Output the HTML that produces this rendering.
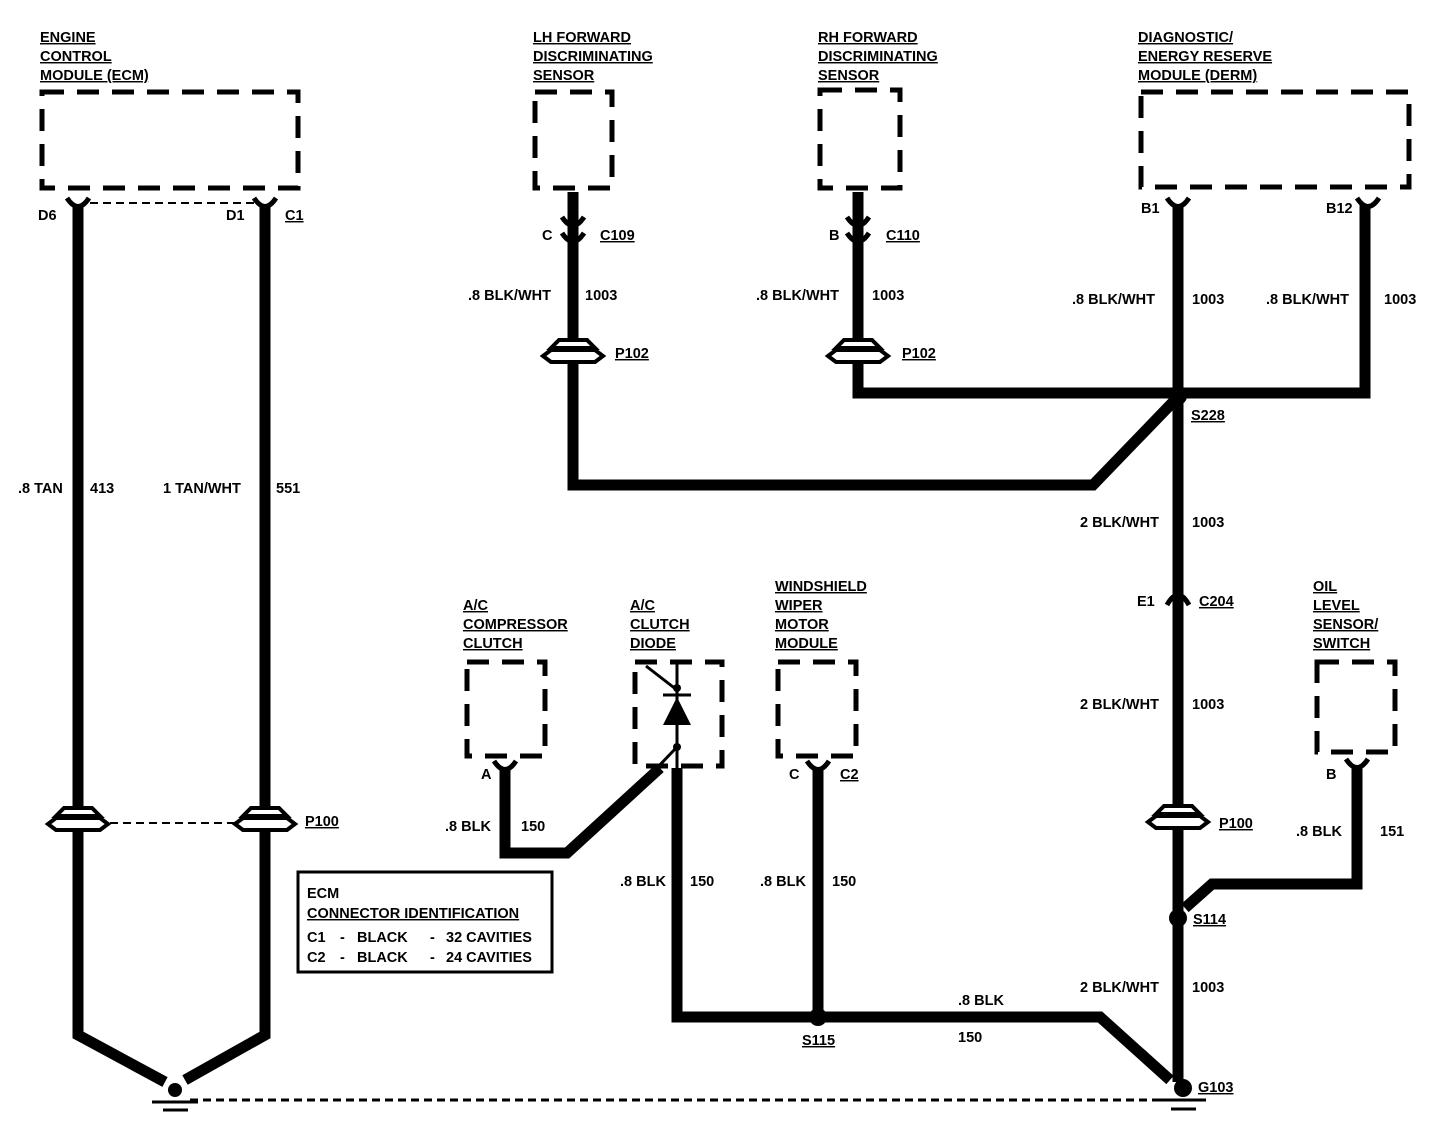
<!DOCTYPE html>
<html><head><style>
html,body{margin:0;padding:0;background:#fff;}
svg{display:block}
text{font-family:"Liberation Sans",sans-serif;font-weight:bold;font-size:14.5px;fill:#000}
.u{text-decoration:underline}
</style></head><body>
<svg width="1440" height="1122" viewBox="0 0 1440 1122" xmlns="http://www.w3.org/2000/svg">
<defs>
<g id="pc">
<path d="M-22 -6 L-14 -14 L14 -14 L22 -6 Z" fill="#fff" stroke="#000" stroke-width="4"/>
<path d="M-30 2 L-22 -4 L22 -4 L30 2 L22 8 L-22 8 Z" fill="#fff" stroke="#000" stroke-width="4"/>
</g>
<path id="cup" d="M-11 -7 Q0 10 11 -7" fill="none" stroke="#000" stroke-width="5"/>
</defs>
<g fill="none" stroke="#000" stroke-width="5" stroke-dasharray="22 13">
<rect x="42" y="92" width="256" height="96"/>
<rect x="535" y="92" width="77" height="96"/>
<rect x="820" y="90" width="80" height="98"/>
<rect x="1141" y="92" width="268" height="95"/>
<rect x="467" y="662" width="78" height="94"/>
<rect x="635" y="662" width="87" height="104"/>
<rect x="778" y="662" width="78" height="94"/>
<rect x="1317" y="662" width="78" height="90"/>
</g>
<g fill="none" stroke="#000" stroke-width="2" stroke-dasharray="8 5">
<line x1="90" y1="203" x2="255" y2="203"/>
<line x1="110" y1="823" x2="235" y2="823"/>
<line x1="190" y1="1100" x2="1170" y2="1100" stroke-width="3"/>
</g>
<g fill="none" stroke="#000" stroke-width="11" stroke-linejoin="miter">
<polyline points="78,205 78,1035 165,1082"/>
<polyline points="265,205 265,1035 185,1080"/>
<polyline points="573,192 573,485 1093,485 1175,400"/>
<polyline points="858,192 858,393 1365,393 1365,205"/>
<line x1="1178" y1="205" x2="1178" y2="1082"/>
<polyline points="1357,765 1357,884 1212,884 1185,908"/>
<polyline points="505,767 505,853 567,853 660,768"/>
<polyline points="677,768 677,1017 1100,1017 1170,1080"/>
<line x1="818" y1="767" x2="818" y2="1015"/>
</g>
<g stroke="#000" fill="none" stroke-width="3">
<line x1="677" y1="664" x2="677" y2="770"/>
<line x1="646" y1="666" x2="677" y2="690"/>
<line x1="663" y1="695" x2="691" y2="695"/>
</g>
<path d="M663 725 L691 725 L677 697 Z" fill="#000"/>
<circle cx="677" cy="688" r="4"/><circle cx="677" cy="747" r="4"/>
<line x1="677" y1="747" x2="655" y2="770" stroke="#000" stroke-width="3"/>
<use href="#cup" x="78" y="205"/><use href="#cup" x="265" y="205"/>
<use href="#cup" x="1178" y="205"/><use href="#cup" x="1368" y="205"/>
<use href="#cup" x="505" y="768"/><use href="#cup" x="818" y="768"/><use href="#cup" x="1357" y="766"/>
<use href="#cup" x="573" y="224"/><use href="#cup" x="573" y="240"/>
<use href="#cup" x="858" y="224"/><use href="#cup" x="858" y="240"/>
<path d="M1167 605 Q1178 585 1189 605" fill="none" stroke="#000" stroke-width="5"/>
<use href="#pc" x="78" y="822"/><use href="#pc" x="265" y="822"/>
<use href="#pc" x="573" y="354"/><use href="#pc" x="858" y="354"/>
<use href="#pc" x="1178" y="820"/>
<circle cx="1178" cy="396" r="9"/><circle cx="1178" cy="918" r="9"/>
<circle cx="818" cy="1017" r="9"/>
<circle cx="175" cy="1090" r="7"/><circle cx="1183" cy="1088" r="9"/>
<g stroke="#000" stroke-width="3">
<line x1="152" y1="1102" x2="198" y2="1102"/><line x1="163" y1="1110" x2="188" y2="1110"/>
<line x1="1160" y1="1100" x2="1206" y2="1100"/><line x1="1171" y1="1109" x2="1196" y2="1109"/>
</g>
<rect x="298" y="872" width="254" height="100" fill="none" stroke="#000" stroke-width="3"/>
<text x="40" y="42" class="u">ENGINE</text>
<text x="40" y="61" class="u">CONTROL</text>
<text x="40" y="80" class="u">MODULE (ECM)</text>
<text x="533" y="42" class="u">LH FORWARD</text>
<text x="533" y="61" class="u">DISCRIMINATING</text>
<text x="533" y="80" class="u">SENSOR</text>
<text x="818" y="42" class="u">RH FORWARD</text>
<text x="818" y="61" class="u">DISCRIMINATING</text>
<text x="818" y="80" class="u">SENSOR</text>
<text x="1138" y="42" class="u">DIAGNOSTIC/</text>
<text x="1138" y="61" class="u">ENERGY RESERVE</text>
<text x="1138" y="80" class="u">MODULE (DERM)</text>
<text x="38" y="220">D6</text><text x="226" y="220">D1</text><text x="285" y="220" class="u">C1</text>
<text x="542" y="240">C</text><text x="600" y="240" class="u">C109</text>
<text x="829" y="240">B</text><text x="886" y="240" class="u">C110</text>
<text x="1141" y="213">B1</text><text x="1326" y="213">B12</text>
<text x="468" y="300">.8 BLK/WHT</text><text x="585" y="300">1003</text>
<text x="756" y="300">.8 BLK/WHT</text><text x="872" y="300">1003</text>
<text x="1072" y="304">.8 BLK/WHT</text><text x="1192" y="304">1003</text>
<text x="1266" y="304">.8 BLK/WHT</text><text x="1384" y="304">1003</text>
<text x="615" y="358" class="u">P102</text><text x="902" y="358" class="u">P102</text>
<text x="1191" y="420" class="u">S228</text>
<text x="18" y="493">.8 TAN</text><text x="90" y="493">413</text>
<text x="163" y="493">1 TAN/WHT</text><text x="276" y="493">551</text>
<text x="1080" y="527">2 BLK/WHT</text><text x="1192" y="527">1003</text>
<text x="1137" y="606">E1</text><text x="1199" y="606" class="u">C204</text>
<text x="463" y="610" class="u">A/C</text><text x="463" y="629" class="u">COMPRESSOR</text><text x="463" y="648" class="u">CLUTCH</text>
<text x="630" y="610" class="u">A/C</text><text x="630" y="629" class="u">CLUTCH</text><text x="630" y="648" class="u">DIODE</text>
<text x="775" y="591" class="u">WINDSHIELD</text><text x="775" y="610" class="u">WIPER</text><text x="775" y="629" class="u">MOTOR</text><text x="775" y="648" class="u">MODULE</text>
<text x="1313" y="591" class="u">OIL</text><text x="1313" y="610" class="u">LEVEL</text><text x="1313" y="629" class="u">SENSOR/</text><text x="1313" y="648" class="u">SWITCH</text>
<text x="1080" y="709">2 BLK/WHT</text><text x="1192" y="709">1003</text>
<text x="481" y="779">A</text><text x="789" y="779">C</text><text x="840" y="779" class="u">C2</text><text x="1326" y="779">B</text>
<text x="305" y="826" class="u">P100</text><text x="1219" y="828" class="u">P100</text>
<text x="445" y="831">.8 BLK</text><text x="521" y="831">150</text>
<text x="1296" y="836">.8 BLK</text><text x="1380" y="836">151</text>
<text x="620" y="886">.8 BLK</text><text x="690" y="886">150</text>
<text x="760" y="886">.8 BLK</text><text x="832" y="886">150</text>
<text x="307" y="898">ECM</text>
<text x="307" y="918" class="u">CONNECTOR IDENTIFICATION</text>
<text x="307" y="942">C1</text><text x="340" y="942">-</text><text x="357" y="942">BLACK</text><text x="430" y="942">-</text><text x="446" y="942">32 CAVITIES</text>
<text x="307" y="962">C2</text><text x="340" y="962">-</text><text x="357" y="962">BLACK</text><text x="430" y="962">-</text><text x="446" y="962">24 CAVITIES</text>
<text x="1193" y="924" class="u">S114</text>
<text x="1080" y="992">2 BLK/WHT</text><text x="1192" y="992">1003</text>
<text x="958" y="1005">.8 BLK</text><text x="958" y="1042">150</text>
<text x="802" y="1045" class="u">S115</text>
<text x="1198" y="1092" class="u">G103</text>
</svg>
</body></html>
